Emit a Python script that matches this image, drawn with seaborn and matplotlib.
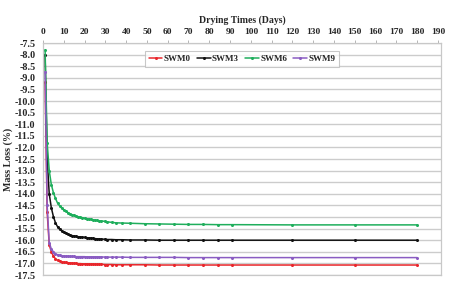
import pandas as pd
import seaborn as sns
import matplotlib.pyplot as plt
import numpy as np

# drying days (daily for four weeks, then weekly, then monthly)
days = [1, 2, 3, 4, 5, 6, 7, 8, 9, 10, 11, 12, 13, 14, 15, 16, 17, 18, 19, 20,
        21, 22, 23, 24, 25, 26, 27, 28, 30, 31, 33, 35, 38, 42, 49, 56, 63, 70,
        77, 84, 91, 120, 150, 180]

swm0 = [-9.2, -14.8, -16.2, -16.5, -16.68, -16.8, -16.87, -16.9, -16.93, -16.95,
        -16.96, -16.97, -16.98, -16.99, -17.0, -17.0, -17.01, -17.01, -17.02, -17.02,
        -17.02, -17.03, -17.03, -17.03, -17.04, -17.04, -17.04, -17.04, -17.05, -17.05,
        -17.05, -17.06, -17.06, -17.06, -17.06, -17.07, -17.07, -17.07, -17.07, -17.07,
        -17.07, -17.07, -17.07, -17.07]

swm3 = [-8.0, -12.5, -14.0, -14.6, -14.98, -15.25, -15.42, -15.53, -15.6, -15.66,
        -15.7, -15.74, -15.77, -15.8, -15.82, -15.84, -15.85, -15.86, -15.87, -15.88,
        -15.89, -15.9, -15.91, -15.92, -15.93, -15.94, -15.95, -15.95, -15.96, -15.97,
        -15.97, -15.98, -15.98, -15.99, -15.99, -16.0, -16.0, -16.0, -16.0, -16.0,
        -16.0, -16.0, -16.0, -16.0]

swm6 = [-7.8, -11.8, -13.0, -13.6, -13.95, -14.2, -14.4, -14.52, -14.62, -14.7,
        -14.76, -14.81, -14.86, -14.9, -14.93, -14.96, -14.99, -15.01, -15.03, -15.05,
        -15.07, -15.09, -15.1, -15.12, -15.13, -15.15, -15.16, -15.17, -15.19, -15.21,
        -15.23, -15.25, -15.26, -15.27, -15.29, -15.3, -15.31, -15.32, -15.32, -15.33,
        -15.33, -15.34, -15.34, -15.34]

swm9 = [-8.75, -14.5, -16.1, -16.38, -16.5, -16.58, -16.63, -16.65, -16.67, -16.68,
        -16.69, -16.69, -16.7, -16.7, -16.7, -16.71, -16.71, -16.71, -16.71, -16.71,
        -16.72, -16.72, -16.72, -16.72, -16.72, -16.72, -16.72, -16.72, -16.73, -16.73,
        -16.73, -16.73, -16.73, -16.74, -16.74, -16.74, -16.74, -16.75, -16.75, -16.75,
        -16.75, -16.75, -16.75, -16.75]

series_names = ["SWM0", "SWM3", "SWM6", "SWM9"]
series_colors = ["#e8262b", "#111111", "#1fae5c", "#8a5cc2"]

frames = []
for name, vals in zip(series_names, [swm0, swm3, swm6, swm9]):
    frames.append(pd.DataFrame({"day": days, "loss": vals, "mix": name}))
df = pd.concat(frames, ignore_index=True)

sns.set_style("white")
plt.rcParams['font.family'] = ['Liberation Serif', 'DejaVu Serif']
plt.rcParams['font.weight'] = 'bold'

fig = plt.figure(figsize=(4.5, 2.83), dpi=100)
ax = fig.add_axes([43/450, 1 - 275/283, 398/450, 232/283])

for name, color in zip(series_names, series_colors):
    this_df = df[df["mix"] == name]
    sns.lineplot(x="day", y="loss", data=this_df, ax=ax, color=color, label=name,
                 linewidth=1.1, marker="o", markersize=2.2, markeredgewidth=0)

ax.set_xlim(0, 191.5)
ax.set_ylim(-17.5, -7.5)
ax.set_xticks(np.arange(0, 191, 10))
ax.set_yticks(np.arange(-17.5, -7.4, 0.5))
ax.set_yticklabels(["{:.1f}".format(v) for v in np.arange(-17.5, -7.4, 0.5)])

ax.xaxis.tick_top()
ax.xaxis.set_label_position("top")
ax.tick_params(axis="x", top=True, length=2, width=0.6, color="#aaaaaa", labelsize=6.8, pad=3)
ax.tick_params(axis="y", left=False, labelsize=7.2, pad=2)
for label in ax.get_xticklabels() + ax.get_yticklabels():
    label.set_fontweight("bold")

ax.grid(axis="y", color="#cccccc", linewidth=1.0)
ax.grid(axis="x", visible=False)
for side in ["top", "bottom", "left", "right"]:
    ax.spines[side].set_visible(True)
    ax.spines[side].set_color("#c8c8c8")
    ax.spines[side].set_linewidth(0.9)

ax.set_xlabel("Drying Times (Days)", fontsize=7, fontweight="bold", labelpad=4)
ax.set_ylabel("Mass Loss (%)", fontsize=7.2, fontweight="bold", labelpad=1)

leg = ax.legend(loc="upper center", bbox_to_anchor=(0.5, 0.985), ncol=4, fontsize=6.5,
                frameon=True, fancybox=False, handlelength=1.5, columnspacing=0.7,
                handletextpad=0.15, borderpad=0.4, edgecolor="#bbbbbb")
leg.get_frame().set_linewidth(0.8)
for text in leg.get_texts():
    text.set_fontweight("bold")

fig.savefig("out.png", dpi=100)
